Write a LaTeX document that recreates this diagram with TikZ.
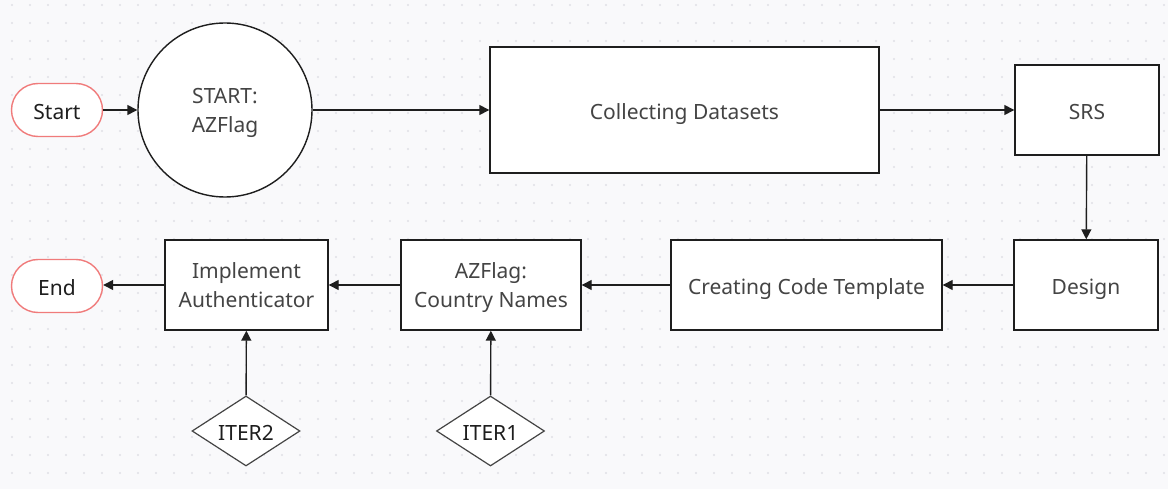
\documentclass[tikz,border=0pt]{standalone}
\usepackage{fontspec}
\setmainfont{Noto Sans}
\usetikzlibrary{shapes.geometric,arrows.meta}
\definecolor{bg}{HTML}{F9F9FB}
\definecolor{dotc}{HTML}{E0E0E6}
\definecolor{edge}{HTML}{1E1E1E}
\definecolor{txt}{HTML}{444444}
\definecolor{pill}{HTML}{F07B7B}
\tikzset{
  lbl/.style={font=\fontsize{21}{29}\selectfont,text height=19pt,text depth=0pt,align=center,inner sep=0pt},
  two/.style={text height=45pt,text depth=0pt},
  box/.style={lbl,draw=edge,line width=1.4pt,fill=white,text=txt},
  term/.style={lbl,draw=pill,line width=1.4pt,fill=white,rounded corners=26.5pt,minimum width=91pt,minimum height=53pt,text=edge},
  dec/.style={lbl,diamond,draw=txt,line width=1.2pt,fill=white,aspect=1.55,minimum width=108pt,minimum height=70pt,text=edge},
  conn/.style={draw=edge,line width=1.4pt,-{Triangle[length=10pt,width=10pt]}}
}
\begin{document}
\begin{tikzpicture}[x=1pt,y=-1pt]
\fill[bg] (0,0) rectangle (1168,489);
\useasboundingbox (0,0) rectangle (1168,489);
\foreach \i in {12,30,...,1164}{\foreach \j in {5,23,...,489}{\fill[dotc] (\i,\j) circle (1.1pt);}}
\node[term] (start) at (57,110) {Start};
\node[lbl,two,circle,draw=edge,line width=1.4pt,fill=white,minimum size=174pt,text=txt] (az) at (225,110) {START:\\AZFlag};
\node[box,minimum width=389pt,minimum height=126pt] (coll) at (684.5,110) {Collecting Datasets};
\node[box,minimum width=144pt,minimum height=90pt] (srs) at (1087,110) {SRS};
\node[box,minimum width=144pt,minimum height=90pt] (design) at (1086,285) {Design};
\node[box,minimum width=271pt,minimum height=90pt] (code) at (806.5,285) {Creating Code Template};
\node[box,two,minimum width=180pt,minimum height=90pt] (cn) at (491,285) {AZFlag:\\Country Names};
\node[box,two,minimum width=163pt,minimum height=90pt] (impl) at (246.5,285) {Implement\\Authenticator};
\node[term] (end) at (57,286) {End};
\node[dec] (it2) at (246,431) {ITER2};
\node[dec] (it1) at (490.5,431) {ITER1};
\draw[conn] (start) -- (az);
\draw[conn] (az) -- (coll);
\draw[conn] (coll) -- (srs);
\draw[conn] (srs) -- (design);
\draw[conn] (design) -- (code);
\draw[conn] (code) -- (cn);
\draw[conn] (cn) -- (impl);
\draw[conn] (impl.west) -- (end.east |- impl.west);
\draw[conn] (it2) -- (impl);
\draw[conn] (it1) -- (cn);
\end{tikzpicture}
\end{document}
